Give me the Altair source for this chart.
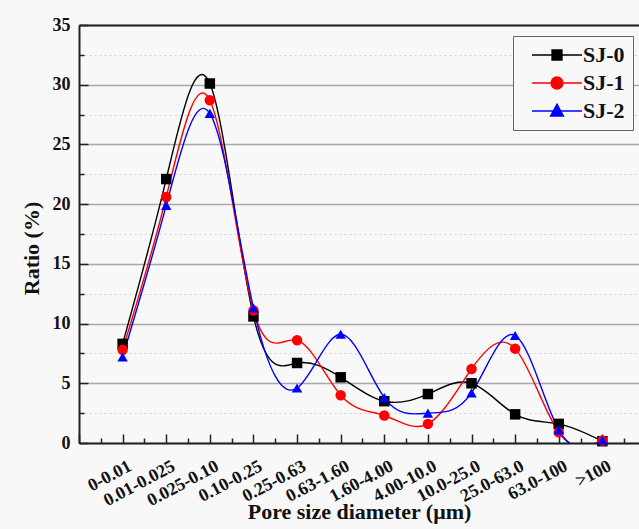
import altair as alt
import pandas as pd

categories = ["0-0.01", "0.01-0.025", "0.025-0.10", "0.10-0.25", "0.25-0.63", "0.63-1.60",
              "1.60-4.00", "4.00-10.0", "10.0-25.0", "25.0-63.0", "63.0-100", ">100"]
positions = list(range(1, 13))
sj0 = [8.3, 22.1, 30.1, 10.6, 6.7, 5.5, 3.5, 4.1, 5.0, 2.4, 1.6, 0.15]
sj1 = [7.8, 20.6, 28.7, 11.1, 8.6, 4.0, 2.3, 1.6, 6.2, 7.9, 0.9, 0.2]
sj2 = [7.2, 19.9, 27.6, 11.3, 4.6, 9.1, 3.8, 2.5, 4.2, 9.0, 1.1, 0.25]
series_names = ["SJ-0", "SJ-1", "SJ-2"]
colors = ["#000000", "#ff0000", "#0000ff"]
shapes = ["square", "circle", "triangle-up"]
legend_paths = [
    "M-5,0H5M-1,-1H1V1H-1Z",
    "M-5,0H5M1.2,0A1.2,1.2,0,1,1,-1.2,0A1.2,1.2,0,1,1,1.2,0Z",
    "M-5,0H5M0,-1.4L1.3,1L-1.3,1Z",
]
y_major = [0, 5, 10, 15, 20, 25, 30, 35]
y_minor = [2.5, 7.5, 12.5, 17.5, 22.5, 27.5, 32.5]
x_major = list(range(0, 13))
x_minor = [i + 0.5 for i in range(0, 13)]

rows = []
for name, vals in zip(series_names, [sj0, sj1, sj2]):
    for p, c, v in zip(positions, categories, vals):
        rows.append({"pos": p, "cat": c, "series": name, "ratio": v})
df = pd.DataFrame(rows)

W, H = 560, 418
FONT = "Liberation Serif"
DARK = "#222222"
xscale = alt.Scale(domain=[0, 12.84], nice=False, zero=False)
yscale = alt.Scale(domain=[0, 35], nice=False)
color_scale = alt.Scale(domain=series_names, range=colors)
label_expr = "[" + ",".join("'%s'" % c for c in categories) + "][datum.value - 1]"

base = alt.Chart(df)

# top frame + minor dotted grid
l1 = base.mark_point(opacity=0).encode(
    x=alt.X("pos:Q", scale=xscale, axis=alt.Axis(orient="top", domain=True, domainColor=DARK,
                                                 domainWidth=2, ticks=False, labels=False,
                                                 grid=False, title=None)),
    y=alt.Y("ratio:Q", scale=yscale, axis=alt.Axis(orient="left", values=y_minor, grid=True,
                                                   gridColor="#d4d4d4", gridDash=[2, 3], gridWidth=1,
                                                   domain=False, ticks=False, labels=False,
                                                   title=None)),
)

lines = base.mark_line(interpolate="natural", clip=True, strokeWidth=1.4).encode(
    x=alt.X("pos:Q", scale=xscale, axis=alt.Axis(
        orient="bottom", values=positions, labelExpr=label_expr, labelAngle=-28,
        labelAlign="right", labelBaseline="top", labelFont=FONT, labelFontSize=18,
        labelFontWeight="bold", labelColor="#111111", labelPadding=14, labelOffset=3,
        labelOverlap=False, ticks=False, grid=False, domainColor=DARK, domainWidth=2,
        title="Pore size diameter (μm)", titleFont=FONT, titleFontSize=22,
        titleFontWeight="bold", titleColor="#111111", titleY=75, titleBaseline="alphabetic")),
    y=alt.Y("ratio:Q", scale=yscale, axis=alt.Axis(
        orient="left", values=y_major, grid=True, gridColor="#a8a8a8", gridWidth=1.5,
        ticks=False, labelPadding=9, labelFont=FONT, labelFontSize=18, labelFontWeight="bold",
        labelColor="#111111", domainColor=DARK, domainWidth=2, title="Ratio (%)",
        titleFont=FONT, titleFontSize=22, titleFontWeight="bold", titleColor="#111111",
        titleX=-48, titleY=223, titleBaseline="middle")),
    color=alt.Color("series:N", scale=color_scale, legend=None),
    detail="series:N",
)

points = base.mark_point(filled=True, size=110, opacity=1).encode(
    x=alt.X("pos:Q", scale=xscale, axis=None),
    y=alt.Y("ratio:Q", scale=yscale, axis=None),
    color=alt.Color("series:N", scale=color_scale, legend=None),
    shape=alt.Shape("series:N", scale=alt.Scale(domain=series_names, range=shapes), legend=None),
)

major_ticks = base.mark_point(opacity=0).encode(
    x=alt.X("pos:Q", scale=xscale, axis=alt.Axis(orient="top", offset=-H, values=x_major,
                                                 tickSize=9, tickWidth=1.5, tickColor=DARK,
                                                 labels=False, domain=False, grid=False, title=None)),
    y=alt.Y("ratio:Q", scale=yscale, axis=alt.Axis(orient="right", offset=-W, values=y_major,
                                                   tickSize=9, tickWidth=1.5, tickColor=DARK,
                                                   labels=False, domain=False, grid=False, title=None)),
)

minor_ticks = base.mark_point(opacity=0).encode(
    x=alt.X("pos:Q", scale=xscale, axis=alt.Axis(orient="top", offset=-H, values=x_minor,
                                                 tickSize=5, tickWidth=1.5, tickColor=DARK,
                                                 labels=False, domain=False, grid=False, title=None)),
    y=alt.Y("ratio:Q", scale=yscale, axis=alt.Axis(orient="right", offset=-W, values=y_minor,
                                                   tickSize=5, tickWidth=1.5, tickColor=DARK,
                                                   labels=False, domain=False, grid=False, title=None)),
)

leg = dict(orient="none", legendX=434, legendY=11, title=None, labelFont=FONT, labelFontSize=22,
           labelFontWeight="bold", labelColor="#111111", symbolSize=100, symbolOffset=25,
           labelOffset=15, padding=8, rowPadding=6, strokeColor="#666666", fillColor="#f8f8f8",
           symbolStrokeWidth=1.3)

legend_layer = base.transform_filter("datum.ratio < -1000").mark_point(
    filled=True, opacity=1, size=100, strokeWidth=1.3).encode(
    x=alt.X("pos:Q", scale=xscale, axis=None),
    y=alt.Y("ratio:Q", scale=yscale, axis=None),
    fill=alt.Fill("series:N", scale=alt.Scale(domain=series_names, range=colors), legend=alt.Legend(**leg)),
    stroke=alt.Stroke("series:N", scale=alt.Scale(domain=series_names, range=colors), legend=alt.Legend(**leg)),
    shape=alt.Shape("series:N", scale=alt.Scale(domain=series_names, range=legend_paths), legend=alt.Legend(**leg)),
)

chart = alt.layer(l1, lines, points, major_ticks, minor_ticks, legend_layer).resolve_axis(
    x="independent", y="independent"
).resolve_scale(shape="independent", fill="independent", stroke="independent").properties(
    width=W, height=H, autosize="none",
    padding={"left": 79, "top": 25, "right": 0, "bottom": 86},
    background="#f8f8f8",
).configure_view(stroke=None)

chart.save("out.html", embed_options={"renderer": "svg", "actions": False})
